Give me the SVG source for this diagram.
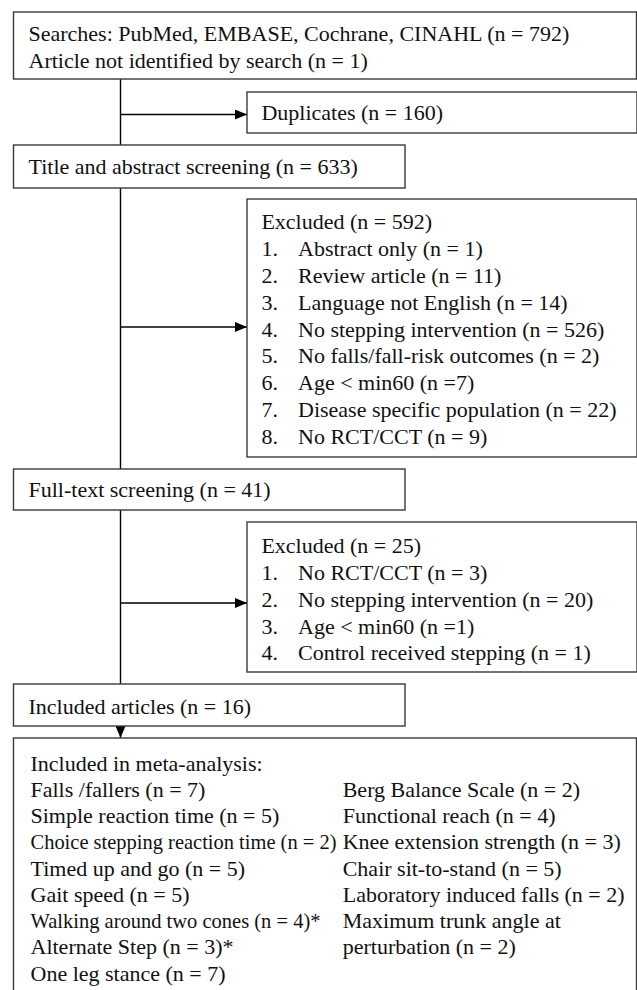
<svg xmlns="http://www.w3.org/2000/svg" width="637" height="990" viewBox="0 0 637 990">
<defs>
<marker id="ah" viewBox="0 0 12 10" refX="12" refY="5" markerWidth="12" markerHeight="10" markerUnits="userSpaceOnUse" orient="auto">
<path d="M0,0 L12,5 L0,10 Z" fill="#000"/>
</marker>
<style>
.box{fill:#fff;stroke:#3a3a3a;stroke-width:1.4}
.ln{fill:none;stroke:#000;stroke-width:1.4}
text{font-family:"Liberation Serif","Times New Roman",serif;font-size:22px;fill:#111}
</style>
</defs>
<rect width="637" height="990" fill="#fff"/>
<g id="connectors">
<path class="ln" d="M120.5,79 V145"/>
<path class="ln" d="M120.5,114.5 H247" marker-end="url(#ah)"/>
<path class="ln" d="M120.5,188 V469"/>
<path class="ln" d="M120.5,327 H247" marker-end="url(#ah)"/>
<path class="ln" d="M120.5,510 V684"/>
<path class="ln" d="M120.5,603 H247" marker-end="url(#ah)"/>
<path class="ln" d="M120.5,726 V738" marker-end="url(#ah)"/>
</g>
<g id="searches">
<rect class="box" x="13.5" y="12" width="623" height="67"/>
<text x="28.5" y="41">Searches: PubMed, EMBASE, Cochrane, CINAHL (n = 792)</text>
<text x="28.5" y="68">Article not identified by search (n = 1)</text>
</g>
<g id="duplicates">
<rect class="box" x="247" y="92" width="390" height="41"/>
<text x="261.4" y="120">Duplicates (n = 160)</text>
</g>
<g id="title-screening">
<rect class="box" x="13.5" y="145" width="391.5" height="43"/>
<text x="28.5" y="174">Title and abstract screening (n = 633)</text>
</g>
<g id="excluded1">
<rect class="box" x="247" y="199" width="390" height="258"/>
<text x="261.4" y="229">Excluded (n = 592)</text>
<text x="261.4" y="255.9">1.</text><text x="298" y="255.9">Abstract only (n = 1)</text>
<text x="261.4" y="282.8">2.</text><text x="298" y="282.8">Review article (n = 11)</text>
<text x="261.4" y="309.6">3.</text><text x="298" y="309.6">Language not English (n = 14)</text>
<text x="261.4" y="336.5">4.</text><text x="298" y="336.5">No stepping intervention (n = 526)</text>
<text x="261.4" y="363.4">5.</text><text x="298" y="363.4">No falls/fall-risk outcomes (n = 2)</text>
<text x="261.4" y="390.3">6.</text><text x="298" y="390.3">Age &lt; min60 (n =7)</text>
<text x="261.4" y="417.1">7.</text><text x="298" y="417.1">Disease specific population (n = 22)</text>
<text x="261.4" y="444">8.</text><text x="298" y="444">No RCT/CCT (n = 9)</text>
</g>
<g id="fulltext-screening">
<rect class="box" x="13.5" y="469" width="391.5" height="41"/>
<text x="28.5" y="497">Full-text screening (n = 41)</text>
</g>
<g id="excluded2">
<rect class="box" x="247" y="522" width="390" height="150"/>
<text x="261.4" y="553.3">Excluded (n = 25)</text>
<text x="261.4" y="580">1.</text><text x="298" y="580">No RCT/CCT (n = 3)</text>
<text x="261.4" y="606.8">2.</text><text x="298" y="606.8">No stepping intervention (n = 20)</text>
<text x="261.4" y="633.6">3.</text><text x="298" y="633.6">Age &lt; min60 (n =1)</text>
<text x="261.4" y="660.4">4.</text><text x="298" y="660.4">Control received stepping (n = 1)</text>
</g>
<g id="included-articles">
<rect class="box" x="13.5" y="684" width="391.5" height="42"/>
<text x="28.5" y="713.5">Included articles (n = 16)</text>
</g>
<g id="meta-analysis">
<rect class="box" x="13.5" y="738" width="623" height="262"/>
<text x="30.5" y="770.6">Included in meta-analysis:</text>
<text x="30.5" y="796.9">Falls /fallers (n = 7)</text>
<text x="30.5" y="823.1">Simple reaction time (n = 5)</text>
<text x="30.5" y="849.4" textLength="306" lengthAdjust="spacingAndGlyphs">Choice stepping reaction time (n = 2)</text>
<text x="30.5" y="875.6">Timed up and go (n = 5)</text>
<text x="30.5" y="901.9">Gait speed (n = 5)</text>
<text x="30.5" y="928.1" textLength="290" lengthAdjust="spacingAndGlyphs">Walking around two cones (n = 4)*</text>
<text x="30.5" y="954.4">Alternate Step (n = 3)*</text>
<text x="30.5" y="980.6">One leg stance (n = 7)</text>
<text x="342.7" y="796.9">Berg Balance Scale (n = 2)</text>
<text x="342.7" y="823.1">Functional reach (n = 4)</text>
<text x="342.7" y="849.4">Knee extension strength (n = 3)</text>
<text x="342.7" y="875.6">Chair sit-to-stand (n = 5)</text>
<text x="342.7" y="901.9">Laboratory induced falls (n = 2)</text>
<text x="342.7" y="928.1">Maximum trunk angle at</text>
<text x="342.7" y="954.4">perturbation (n = 2)</text>
</g>
</svg>
